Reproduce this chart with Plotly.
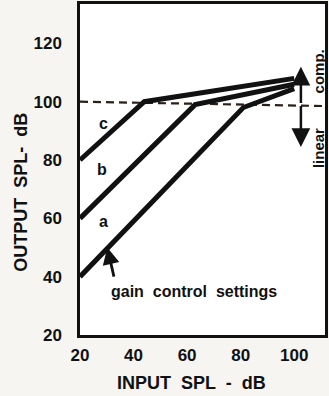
import plotly.graph_objects as go

# Input/output characteristic for three gain-control settings (a, b, c)
input_db = {
    "a": [20, 81, 100],
    "b": [20, 63, 100],
    "c": [20, 44, 100],
}
output_db = {
    "a": [40, 98, 104.5],
    "b": [60, 99, 106],
    "c": [80, 100, 108],
}
kneepoint_level = 100
x_ticks = [20, 40, 60, 80, 100]
y_ticks = [20, 40, 60, 80, 100, 120]

FONT = "Liberation Sans, Arial, sans-serif"
INK = "#111"

fig = go.Figure()

# dashed limiting level
fig.add_trace(go.Scatter(
    x=[20, 112], y=[kneepoint_level, kneepoint_level - 1.5], mode="lines",
    line=dict(color="#2a1f1a", width=2.2, dash="8px,5px"), hoverinfo="skip",
    showlegend=False))

for key in ["a", "b", "c"]:
    fig.add_trace(go.Scatter(
        x=input_db[key], y=output_db[key], mode="lines",
        line=dict(color=INK, width=5), showlegend=False, name=key))

# curve labels
for key, (lx, ly) in {"a": (28.8, 59), "b": (28.4, 76.7), "c": (28.6, 92.5)}.items():
    fig.add_annotation(x=lx, y=ly, text=f"<b>{key}</b>", showarrow=False,
                       font=dict(family=FONT, size=16, color=INK))

# double-headed arrow: compression above, linear below
for tip in (112, 84.5):
    fig.add_annotation(x=102.5, y=tip, ax=102.5, ay=99, axref="x", ayref="y",
                       text="", showarrow=True, arrowhead=2, arrowsize=1.5,
                       arrowwidth=2.5, arrowcolor=INK)
fig.add_annotation(x=109, y=110.5, text="<b>comp.</b>", showarrow=False,
                   textangle=-90, xanchor="center", yanchor="middle",
                   font=dict(family=FONT, size=15, color=INK))
fig.add_annotation(x=109, y=84.2, text="<b>linear</b>", showarrow=False,
                   textangle=-90, xanchor="center", yanchor="middle",
                   font=dict(family=FONT, size=15, color=INK))

# gain control pointer
fig.add_annotation(x=30.2, y=50, ax=32.8, ay=39.5, axref="x", ayref="y",
                   text="", showarrow=True, arrowhead=2, arrowsize=1.2,
                   arrowwidth=2.8, arrowcolor=INK)
fig.add_annotation(x=62.6, y=34.8, text="<b>gain  control  settings</b>",
                   showarrow=False, font=dict(family=FONT, size=16, color=INK))

# axis titles
fig.add_annotation(xref="x domain", yref="y domain", x=-0.242, y=0.432,
                   xanchor="center", yanchor="middle",
                   text="<b>OUTPUT  SPL-  dB</b>", showarrow=False,
                   textangle=-90, font=dict(family=FONT, size=18, color=INK))
fig.add_annotation(xref="x domain", yref="y domain", x=0.455, y=-0.145,
                   xanchor="center", yanchor="middle",
                   text="<b>INPUT  SPL  -  dB</b>", showarrow=False,
                   font=dict(family=FONT, size=18, color=INK))

fig.update_layout(
    width=329, height=396,
    margin=dict(l=80, r=1, t=4, b=61),
    paper_bgcolor="#f6f5f2", plot_bgcolor="#ffffff",
    font=dict(family=FONT, color=INK),
    xaxis=dict(range=[20, 111.5], tickvals=x_ticks,
               ticktext=[f"<b>{v}</b>" for v in x_ticks],
               tickfont=dict(size=17), ticks="outside", ticklen=3,
               tickcolor="rgba(0,0,0,0)", showgrid=False, zeroline=False,
               showline=True, linecolor=INK, linewidth=2.5, mirror=True),
    yaxis=dict(range=[20, 133.5], tickvals=y_ticks,
               ticktext=[f"<b>{v}</b>" for v in y_ticks],
               tickfont=dict(size=17), ticks="outside", ticklen=12,
               tickcolor="rgba(0,0,0,0)", showgrid=False, zeroline=False,
               showline=True, linecolor=INK, linewidth=2.5, mirror=True),
)

fig.write_html("out.html")
